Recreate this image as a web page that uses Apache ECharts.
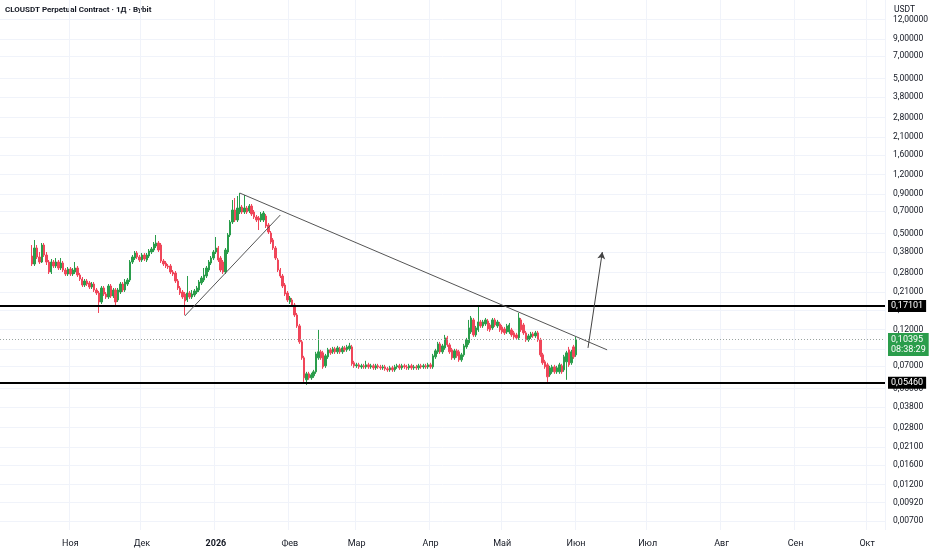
<!DOCTYPE html>
<html>
<head>
<meta charset="utf-8">
<script src="https://cdn.jsdelivr.net/npm/echarts@6/dist/echarts.min.js"></script>
<style>
html,body{margin:0;padding:0;background:#fff;}
#main{width:932px;height:550px;}
</style>
</head>
<body>
<div id="main"></div>
<script>
// ---- DATA ----
const axisStart = '2025-10-03';
const axisDays = 371;
const candleStart = '2025-10-16';
const monthNames = ['Янв','Фев','Мар','Апр','Май','Июн','Июл','Авг','Сен','Окт','Ноя','Дек'];
const yTicks = [12, 9, 7, 5, 3.8, 2.8, 2.1, 1.6, 1.2, 0.9, 0.7, 0.5, 0.38, 0.28, 0.21, 0.16, 0.12, 0.09, 0.07, 0.05, 0.038, 0.028, 0.021, 0.016, 0.012, 0.0092, 0.007];
const supportLevels = [0.17101, 0.0546];
const lastPrice = 0.10395;
const countdown = '08:38:29';
// [startDate, startPrice, endDate, endPrice]
const trendLines = [
  ['2026-01-11', 0.9146, '2026-06-14', 0.0890],
  ['2025-12-19', 0.1472, '2026-01-28', 0.6596]
];
const arrowLine = ['2026-06-06', 0.0916, '2026-06-12', 0.3807];

const open = [
.3588,.3186,.4040,.3535,.3282,.4224,.3641,.3282,.2829,.3282,.3093,.3282,.3002,.3233,.2914,.2746,.2958,.2746,.2829,.3002,
.2706,.2550,.2332,.2475,.2403,.2264,.2367,.2165,.2071,.1812,.2231,.2041,.1952,.2298,.1981,.2165,.1867,.2102,.2367,.2165,
.2367,.2512,.3282,.3483,.3751,.3535,.3381,.3641,.3381,.3588,.3807,.3922,.4162,.4352,.4224,.3331,.3233,.3093,.3093,.2829,
.2787,.2475,.2231,.2102,.2041,.1867,.2071,.1952,.2011,.2102,.2165,.2403,.2512,.2666,.2914,.3233,.3483,.3807,.4040,.3483,
.3282,.2829,.3807,.4901,.5945,.7105,.6124,.6897,.7429,.6897,.7319,.7000,.7540,.6897,.6403,.6309,.6124,.6124,.6499,.5686,
.5049,.4550,.4040,.3381,.2914,.2666,.2332,.2071,.1812,.1867,.1733,.1494,.1270,.1002,.0790,.0570,.0623,.0587,.0605,.0642,
.0790,.0864,.0851,.0702,.0802,.0890,.0864,.0903,.0864,.0903,.0864,.0916,.0890,.0903,.0930,.0734,.0702,.0712,.0691,.0702,
.0691,.0712,.0691,.0702,.0681,.0702,.0691,.0681,.0691,.0671,.0661,.0681,.0661,.0691,.0702,.0681,.0702,.0691,.0681,.0702,
.0681,.0691,.0681,.0702,.0691,.0702,.0691,.0712,.0691,.0802,.0864,.0972,.0864,.0916,.1063,.0958,.0890,.0790,.0877,.0864,
.0767,.0826,.0930,.0987,.1162,.1388,.1111,.1197,.1347,.1270,.1308,.1367,.1288,.1233,.1388,.1270,.1308,.1251,.1214,.1162,
.1162,.1197,.1145,.1111,.1063,.1388,.1288,.1145,.1032,.1079,.1128,.1095,.1145,.1032,.0826,.0745,.0712,.0614,.0642,.0691,
.0642,.0642,.0702,.0661,.0745,.0890,.0734,.0930,.0826
];
const close = [
.3186,.4040,.3535,.3282,.4224,.3641,.3282,.2829,.3282,.3093,.3282,.3002,.3233,.2914,.2746,.2958,.2746,.2914,.3002,.2706,
.2550,.2332,.2475,.2367,.2264,.2367,.2165,.2071,.1812,.2231,.2041,.1952,.2298,.1981,.2165,.1812,.2165,.2367,.2165,.2439,
.2512,.3282,.3535,.3751,.3535,.3381,.3641,.3431,.3641,.3864,.3981,.4288,.4352,.3922,.3331,.3186,.3093,.3047,.2829,.2746,
.2475,.2231,.2071,.1952,.1839,.2071,.1952,.2041,.2134,.2231,.2439,.2588,.2706,.3002,.3282,.3483,.3807,.4040,.3381,.2914,
.2829,.3922,.4901,.5945,.7105,.6124,.7319,.7429,.6897,.7319,.6897,.7540,.6695,.6403,.6124,.6124,.6695,.6795,.5602,.5124,
.4417,.4040,.3483,.2914,.2666,.2298,.2041,.1867,.1923,.1733,.1494,.1270,.1002,.0790,.0587,.0623,.0587,.0614,.0642,.0838,
.0864,.0790,.0691,.0814,.0890,.0851,.0903,.0864,.0916,.0864,.0916,.0890,.0930,.0944,.0723,.0702,.0712,.0691,.0702,.0691,
.0712,.0691,.0702,.0681,.0702,.0691,.0681,.0691,.0671,.0661,.0681,.0661,.0691,.0702,.0681,.0702,.0691,.0681,.0702,.0681,
.0691,.0681,.0702,.0691,.0702,.0691,.0712,.0691,.0814,.0877,.0972,.0864,.0944,.1063,.0958,.0864,.0790,.0877,.0814,.0767,
.0826,.0944,.1032,.1233,.1429,.1111,.1233,.1347,.1270,.1347,.1388,.1214,.1197,.1388,.1288,.1347,.1197,.1162,.1145,.1270,
.1288,.1111,.1079,.1063,.1429,.1197,.1145,.1032,.1095,.1128,.1095,.1145,.1032,.0826,.0734,.0691,.0596,.0681,.0691,.0642,
.0681,.0712,.0642,.0802,.0851,.0712,.0864,.0802,.10395
];
const low = [
.3093,.3093,.3431,.3186,.3233,.3535,.3139,.2746,.2746,.3002,.3002,.2914,.2914,.2829,.2666,.2666,.2666,.2666,.2746,.2627,
.2475,.2264,.2264,.2298,.2198,.2198,.2102,.2011,.1539,.1759,.1981,.1895,.1895,.1923,.1923,.1708,.1812,.2041,.2102,.2102,
.2298,.2439,.3186,.3381,.3431,.3282,.3282,.3331,.3282,.3483,.3696,.3807,.4040,.3807,.3233,.3093,.3002,.2958,.2746,.2666,
.2403,.2165,.2011,.1895,.1494,.1812,.1895,.1895,.1952,.2041,.2102,.2332,.2439,.2588,.2829,.3139,.3381,.3696,.3282,.2829,
.2746,.2746,.3696,.4758,.5771,.5945,.5945,.6695,.6695,.6695,.6695,.6795,.6499,.6216,.5945,.5279,.5945,.5945,.5438,.4974,
.4288,.3922,.3381,.2829,.2588,.2231,.1981,.1812,.1759,.1683,.1451,.1233,.0972,.0767,.0553,.0529,.0570,.0570,.0587,.0623,
.0767,.0767,.0671,.0681,.0778,.0826,.0838,.0838,.0838,.0838,.0838,.0864,.0864,.0877,.0702,.0681,.0681,.0671,.0671,.0671,
.0671,.0671,.0671,.0661,.0661,.0671,.0661,.0661,.0652,.0642,.0642,.0642,.0642,.0671,.0661,.0661,.0671,.0661,.0661,.0661,
.0661,.0661,.0661,.0671,.0671,.0671,.0671,.0671,.0671,.0778,.0838,.0838,.0838,.0890,.0930,.0838,.0767,.0767,.0790,.0745,
.0745,.0802,.0903,.0958,.1128,.1079,.1079,.1162,.1233,.1233,.1270,.1179,.1162,.1197,.1251,.1233,.1162,.1128,.1111,.1128,
.1128,.1079,.1047,.1032,.1032,.1162,.1111,.1002,.1002,.1047,.1063,.1063,.1002,.0802,.0712,.0671,.0553,.0596,.0623,.0623,
.0623,.0623,.0623,.0642,.0570,.0691,.0712,.0778,.0802
];
const high = [
.4224,.4550,.4224,.3807,.4352,.4352,.3807,.3381,.3431,.3381,.3483,.3381,.3483,.3331,.3002,.3047,.3047,.3002,.3282,.3093,
.2787,.2627,.2550,.2550,.2475,.2439,.2439,.2231,.2134,.2298,.2298,.2102,.2367,.2367,.2231,.2231,.2231,.2439,.2439,.2550,
.2588,.3381,.3641,.3864,.3864,.3641,.3751,.3751,.3751,.3981,.4101,.4417,.4901,.4483,.4352,.3431,.3331,.3186,.3186,.2914,
.2871,.2550,.2298,.2165,.2102,.2666,.2134,.2165,.2198,.2298,.2512,.2666,.3002,.3093,.3381,.3588,.3922,.4758,.4162,.3588,
.3381,.4040,.5049,.6124,.8243,.8492,.8748,.9146,.7653,.8879,.7540,.7767,.7767,.7105,.6596,.6499,.6897,.7000,.6695,.5857,
.5201,.4687,.4162,.3483,.3002,.2746,.2403,.2134,.1981,.1923,.1785,.1539,.1308,.1032,.0814,.0642,.0642,.0633,.0661,.0864,
.1197,.0890,.0877,.0838,.0916,.0916,.0930,.0930,.0944,.0930,.0944,.0944,.0958,.0987,.0958,.0756,.0734,.0734,.0723,.0723,
.0756,.0734,.0723,.0723,.0723,.0723,.0712,.0712,.0712,.0691,.0702,.0702,.0712,.0723,.0723,.0723,.0723,.0712,.0723,.0723,
.0712,.0712,.0723,.0723,.0723,.0723,.0734,.0734,.0838,.0903,.1002,.1002,.0972,.1111,.1095,.0987,.0916,.0903,.0903,.0890,
.0851,.0972,.1063,.1388,.1472,.1429,.1270,.1683,.1388,.1388,.1429,.1408,.1327,.1429,.1429,.1388,.1347,.1288,.1251,.1308,
.1327,.1233,.1179,.1145,.1539,.1429,.1327,.1179,.1128,.1162,.1162,.1179,.1179,.1063,.0851,.0767,.0734,.0702,.0712,.0712,
.0702,.0734,.0723,.0826,.0877,.0930,.0890,.0958,.1079
];

// ---- BUILD ----
function dayStr(base, n) {
  const d = new Date(base + 'T00:00:00Z');
  d.setUTCDate(d.getUTCDate() + n);
  return d.toISOString().slice(0, 10);
}
const categories = [];
for (let i = 0; i < axisDays; i++) categories.push(dayStr(axisStart, i));
const candleData = open.map((o, i) => [dayStr(candleStart, i), o, close[i], low[i], high[i]]);

const UP = '#2a9d4b', DOWN = '#f0465a';
const fmtPrice = v => Number(v).toFixed(5).replace('.', ',');
const isMonthStart = (idx, val) => val.slice(8) === '01';

const lineData = [];
supportLevels.forEach(v => lineData.push({
  yAxis: v,
  lineStyle: { color: '#000', width: 2, type: 'solid' },
  label: { show: true, position: 'end', distance: 3, formatter: fmtPrice(v), color: '#fff',
    backgroundColor: '#000', padding: [2, 3, 1, 3], fontSize: 9, fontFamily: 'Roboto' }
}));
lineData.push({
  yAxis: lastPrice,
  lineStyle: { color: '#9aa3a0', width: 1, type: [1, 2] },
  label: { show: true, position: 'end', distance: 3, offset: [0, 5], formatter: fmtPrice(lastPrice) + '\n' + countdown,
    color: '#fff', backgroundColor: UP, padding: [2, 3, 1, 3], fontSize: 9, lineHeight: 10, fontFamily: 'Roboto' }
});
trendLines.forEach(t => lineData.push([
  { coord: [t[0], t[1]], symbol: 'none', lineStyle: { color: '#555', width: 1, type: 'solid' }, label: { show: false } },
  { coord: [t[2], t[3]], symbol: 'none' }
]));
lineData.push([
  { coord: [arrowLine[0], arrowLine[1]], symbol: 'none', lineStyle: { color: '#444', width: 1, type: 'solid' }, label: { show: false } },
  { coord: [arrowLine[2], arrowLine[3]], symbol: 'arrow', symbolSize: [6, 7] }
]);

const chart = echarts.init(document.getElementById('main'), null, { renderer: 'canvas' });
chart.setOption({
  animation: false,
  backgroundColor: '#fff',
  textStyle: { fontFamily: 'Roboto' },
  grid: { left: 0, right: 47, top: 0, bottom: 20 },
  xAxis: {
    type: 'category',
    data: categories,
    boundaryGap: true,
    axisLine: { show: false },
    axisTick: { show: false },
    axisLabel: {
      interval: isMonthStart,
      color: '#131722',
      fontSize: 9,
      margin: 9,
      formatter: v => {
        const m = parseInt(v.slice(5, 7), 10) - 1;
        return m === 0 ? '{b|' + v.slice(0, 4) + '}' : monthNames[m];
      },
      rich: { b: { fontWeight: 'bold', fontSize: 9, color: '#131722' } }
    },
    splitLine: { show: true, interval: isMonthStart, lineStyle: { color: '#f0f3fa', width: 1 } }
  },
  yAxis: {
    type: 'log',
    position: 'right',
    min: 0.006124,
    max: 16.09,
    axisLine: { show: false },
    axisTick: { show: false, customValues: yTicks },
    axisLabel: { customValues: yTicks, formatter: fmtPrice, color: '#131722', fontSize: 8.5, margin: 8 },
    splitLine: { show: true, lineStyle: { color: '#f0f3fa', width: 1 } }
  },
  graphic: [
    { type: 'text', left: 5, top: 6, style: { text: 'CLOUSDT Perpetual Contract · 1Д · Bybit', fontSize: 8, fontWeight: 'bold', fill: '#131722', fontFamily: 'Roboto' } },
    { type: 'text', left: 894, top: 5, style: { text: 'USDT', fontSize: 8.5, fill: '#131722', fontFamily: 'Roboto' } }
  ],
  series: [{
    type: 'candlestick',
    data: candleData,
    encode: { x: 0, y: [1, 2, 3, 4] },
    barWidth: 1.9,
    itemStyle: { color: UP, color0: DOWN, borderColor: UP, borderColor0: DOWN, borderWidth: 1 },
    markLine: { silent: true, animation: false, precision: 5, symbol: ['none', 'none'], data: lineData }
  }]
});
</script>
</body>
</html>
